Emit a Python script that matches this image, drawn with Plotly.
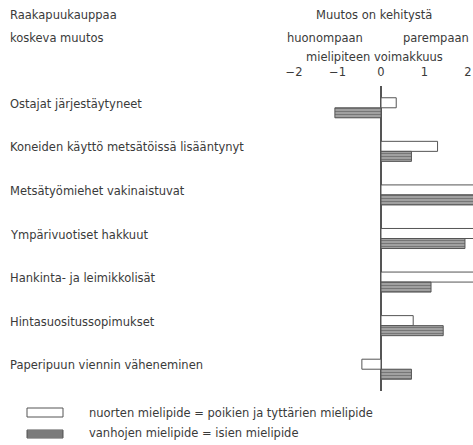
import plotly.graph_objects as go

categories = [
    "Ostajat järjestäytyneet",
    "Koneiden käyttö metsätöissä lisääntynyt",
    "Metsätyömiehet vakinaistuvat",
    "Ympärivuotiset hakkuut",
    "Hankinta- ja leimikkolisät",
    "Hintasuositussopimukset",
    "Paperipuun viennin väheneminen",
]
nuorten = [0.35, 1.3, 2.3, 2.3, 2.3, 0.74, -0.44]
vanhojen = [-1.06, 0.7, 2.3, 1.93, 1.15, 1.43, 0.7]
tick_vals = [-2, -1, 0, 1, 2]
tick_text = ["\u22122", "\u22121", "0", "1", "2"]

FONT = "DejaVu Sans"
FS = 11.5
TXT = "#3a3a3a"
W, H = 473, 445
TOP, BOT = 86, 391
ZERO_PX = 381
UNIT = 43.5

def py(p):
    return (BOT - p) / (BOT - TOP)

def px(p):
    return p / W

fig = go.Figure()
fig.add_trace(go.Bar(
    y=categories, x=nuorten, orientation="h", name="nuorten",
    marker=dict(color="white", line=dict(color="#555", width=1)),
))
fig.add_trace(go.Bar(
    y=categories, x=vanhojen, orientation="h", name="vanhojen",
    marker=dict(color="#8a8a8a", line=dict(color="#555", width=1),
                pattern=dict(shape="-", size=3, fgcolor="#444",
                             bgcolor="#a8a8a8", solidity=0.45)),
))

annotations = []
for c in categories:
    annotations.append(dict(x=px(8), xref="paper", y=c, yref="y", text=c,
                            showarrow=False, xanchor="left", yanchor="middle",
                            yshift=4, font=dict(family=FONT, size=FS, color=TXT)))

hdr = [
    ("Raakapuukauppaa", 8, 15, "left"),
    ("koskeva muutos", 8, 38, "left"),
    ("Muutos on kehitystä", 374, 15, "center"),
    ("huonompaan", 285, 38, "left"),
    ("parempaan", 401, 38, "left"),
    ("mielipiteen voimakkuus", 374, 57, "center"),
    ("nuorten mielipide = poikien ja tyttärien mielipide", 87, 413, "left"),
    ("vanhojen mielipide = isien mielipide", 87, 433, "left"),
]
for t, x, y, a in hdr:
    annotations.append(dict(x=px(x), xref="paper", y=py(y), yref="paper", text=t,
                            showarrow=False, xanchor=a, yanchor="middle",
                            font=dict(family=FONT, size=FS, color=TXT)))

shapes = [
    dict(type="rect", xref="paper", yref="paper", x0=px(27), x1=px(63),
         y0=py(417), y1=py(408), fillcolor="white", line=dict(color="#555", width=1)),
    dict(type="rect", xref="paper", yref="paper", x0=px(27), x1=px(63),
         y0=py(438), y1=py(430), fillcolor="#a0a0a0", line=dict(color="#555", width=1)),
]
for yy in (432, 434, 436):
    shapes.append(dict(type="line", xref="paper", yref="paper", x0=px(27), x1=px(63),
                       y0=py(yy), y1=py(yy), line=dict(color="#444", width=0.8)))

fig.update_layout(
    width=W, height=H,
    margin=dict(l=0, r=0, t=TOP, b=H - BOT, pad=0),
    paper_bgcolor="white", plot_bgcolor="white",
    barmode="group", bargap=0.54, bargroupgap=0,
    showlegend=False,
    xaxis=dict(range=[-ZERO_PX / UNIT, (W - ZERO_PX) / UNIT], side="top",
               tickvals=tick_vals, ticktext=tick_text, showgrid=False,
               zeroline=True, zerolinecolor="#555", zerolinewidth=1.5,
               showline=False, ticks="outside", ticklen=4, tickcolor="rgba(0,0,0,0)",
               tickfont=dict(family=FONT, size=FS, color=TXT), fixedrange=True),
    yaxis=dict(categoryorder="array", categoryarray=categories, autorange="reversed",
               showticklabels=False, showgrid=False, zeroline=False, showline=False),
    annotations=annotations, shapes=shapes,
)
fig.write_html("out.html", config={"displayModeBar": False},
               post_script="document.body.style.margin='0';")
